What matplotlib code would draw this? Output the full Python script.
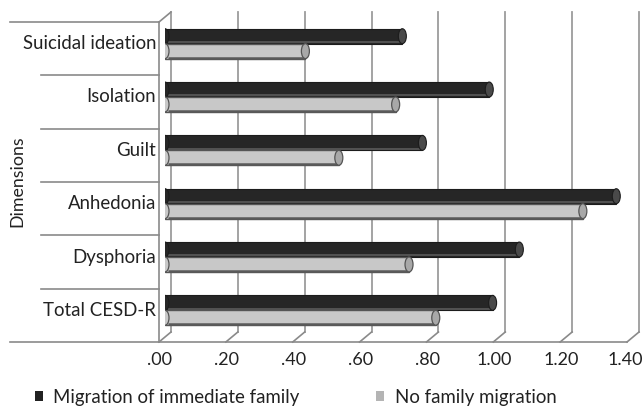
import matplotlib
matplotlib.use("Agg")
import matplotlib.pyplot as plt
from matplotlib.patches import Ellipse, Patch
from matplotlib.lines import Line2D

# data
categories = ["Total CESD-R", "Dysphoria", "Anhedonia", "Guilt", "Isolation", "Suicidal ideation"]
migration = [0.98, 1.06, 1.35, 0.77, 0.97, 0.71]
no_migration = [0.81, 0.73, 1.25, 0.52, 0.69, 0.42]
ticks = [0.0, 0.2, 0.4, 0.6, 0.8, 1.0, 1.2, 1.4]
tick_labels = [".00", ".20", ".40", ".60", ".80", "1.00", "1.20", "1.40"]
series_names = ["Migration of immediate family", "No family migration"]

W, H = 644, 407
plt.rcParams['font.family'] = ['Lato', 'DejaVu Sans']
fig = plt.figure(figsize=(W / 100, H / 100), dpi=100)


def px_axes(left, top, right, bottom):
    # axes placed by pixel box (y measured from the top)
    return fig.add_axes([left / W, (H - bottom) / H, (right - left) / W, (bottom - top) / H])


# 3D-ish frame: front plane, back wall (offset up-right), bars in between
dx, dy = 12, 10
front = px_axes(159, 22, 627, 342)
back = px_axes(159 + dx, 22 - dy, 627 + dx, 342 - dy)
bars = px_axes(159 + dx / 2, 22 - dy / 2, 627 + dx / 2, 342 - dy / 2)
for a in (front, back, bars):
    a.set_xlim(0, 1.4)
    a.set_ylim(-0.5, 5.5)
    a.patch.set_visible(False)
    for s in a.spines.values():
        s.set_visible(False)
    a.set_xticks([])
    a.set_yticks([])

grid_c = "#9c9c9c"
line_c = "#8a8a8a"
ppu = 334.3  # pixels per unit along x

# back wall gridlines
for v in ticks:
    back.plot([v, v], [-0.5, 5.5], color=grid_c, lw=1.3, clip_on=False)

# front walls: left edge, floor edge, category separators
front.plot([0, 0], [-0.5, 5.5], color=line_c, lw=1.2, clip_on=False)
front.plot([-149 / ppu, 1.4], [-0.5, -0.5], color=line_c, lw=1.2, clip_on=False)
for i in range(6):
    y = i + 0.5
    x0 = -149 / ppu if i == 5 else -118 / ppu
    front.plot([x0, 0], [y, y], color=line_c, lw=1.2, clip_on=False)

# diagonal edges connecting the front plane to the back wall
to_fig = fig.transFigure.inverted()
for v in ticks:
    p0 = to_fig.transform(front.transData.transform((v, -0.5)))
    p1 = to_fig.transform(back.transData.transform((v, -0.5)))
    fig.add_artist(Line2D([p0[0], p1[0]], [p0[1], p1[1]], color=line_c, lw=1.2))
p0 = to_fig.transform(front.transData.transform((0, 5.5)))
p1 = to_fig.transform(back.transData.transform((0, 5.5)))
fig.add_artist(Line2D([p0[0], p1[0]], [p0[1], p1[1]], color=line_c, lw=1.2))

# tick labels on the front floor edge (last one kept inside the edge)
for v, lab in zip(ticks, tick_labels):
    if v == ticks[-1]:
        front.text(1.4 + 16 / ppu, -0.5 - 18 / 53.3, lab, ha="right", va="center",
                   fontsize=13, color="#222222")
    else:
        front.text(v + 1 / ppu, -0.5 - 18 / 53.3, lab, ha="center", va="center",
                   fontsize=13, color="#222222")

# cylinder-like bars
bh = 0.28
ys = list(range(len(categories)))
cap_w = 8 / ppu
bars.barh([y + bh / 2 for y in ys], migration, height=bh, color="#262626",
          edgecolor="#1c1c1c", linewidth=0.8, zorder=3)
bars.barh([y - bh / 2 for y in ys], no_migration, height=bh, color="#c8c8c8",
          edgecolor="#555555", linewidth=1.0, zorder=3)
for y, a, b in zip(ys, migration, no_migration):
    bars.plot([0.01, a], [y + 0.03, y + 0.03], color="#5a5a5a", lw=1.2, zorder=4,
              solid_capstyle="butt")
    bars.plot([0.01, b], [y - bh + 0.02, y - bh + 0.02], color="#5a5a5a", lw=1.8, zorder=4,
              solid_capstyle="butt")
    bars.add_patch(Ellipse((a, y + bh / 2), cap_w, bh, facecolor="#4a4a4a",
                           edgecolor="#1c1c1c", lw=0.8, zorder=5))
    bars.add_patch(Ellipse((b, y - bh / 2), cap_w, bh, facecolor="#a8a8a8",
                           edgecolor="#555555", lw=0.9, zorder=5))
    bars.add_patch(Ellipse((0, y + bh / 2), cap_w, bh, facecolor="#262626",
                           edgecolor="#1c1c1c", lw=0.8, zorder=5))
    bars.add_patch(Ellipse((0, y - bh / 2), cap_w, bh, facecolor="#c8c8c8",
                           edgecolor="#555555", lw=0.9, zorder=5))

# category labels
for y, c in zip(ys, categories):
    bars.text(-9 / ppu, y, c, ha="right", va="center", fontsize=13.4, color="#222222")

fig.text(17 / W, 1 - 181 / H, "Dimensions", rotation=90, ha="center", va="center",
         fontsize=12.8, color="#222222")

handles = [Patch(facecolor="#222222", edgecolor="none"),
           Patch(facecolor="#b4b4b4", edgecolor="none")]
fig.legend(handles, series_names, loc="center left", bbox_to_anchor=(35 / W, 1 - 397 / H),
           ncol=2, frameon=False, fontsize=13.4, handlelength=0.45, handleheight=0.45,
           handletextpad=0.54, columnspacing=4.1, borderpad=0, borderaxespad=0,
           labelcolor="#222222")

fig.savefig("out.png", dpi=100)
